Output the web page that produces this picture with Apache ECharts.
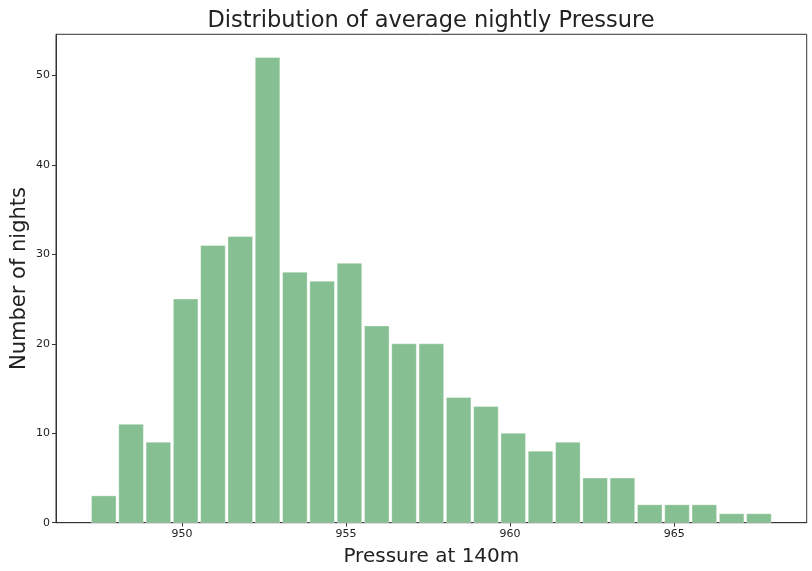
<!DOCTYPE html>
<html>
<head>
<meta charset="utf-8">
<style>
  html, body { margin: 0; padding: 0; background: #fff; }
  #chart { width: 812px; height: 571px; }
</style>
<script src="https://cdn.jsdelivr.net/npm/echarts@6/dist/echarts.min.js"></script>
</head>
<body>
<div id="chart"></div>
<script>
// Histogram of average nightly pressure at 140 m (25 equal-width bins)
const binLow = 947.2;
const binHigh = 968.0;
const counts = [3, 11, 9, 25, 31, 32, 52, 28, 27, 29, 22, 20, 20, 14, 13, 10, 8, 9, 5, 5, 2, 2, 2, 1, 1];
const xTicks = [950, 955, 960, 965];
const yTicks = [0, 10, 20, 30, 40, 50];

const binWidth = (binHigh - binLow) / counts.length;
const bins = counts.map((c, i) => [binLow + i * binWidth, binLow + (i + 1) * binWidth, c]);

const span = binHigh - binLow;
const xMin = binLow - span * 0.05;
const xMax = binHigh + span * 0.05;
const yMax = Math.max(...counts) * 1.05;

const font = 'DejaVu Sans';
const ink = '#222';

const chart = echarts.init(document.getElementById('chart'), null, { renderer: 'canvas' });
chart.setOption({
  animation: false,
  backgroundColor: '#fff',
  title: {
    text: 'Distribution of average nightly Pressure',
    left: 431, top: 10, textAlign: 'center', padding: 0,
    textStyle: { fontFamily: font, fontSize: 22.5, fontWeight: 'normal', color: ink }
  },
  grid: {
    left: 56, right: 5.3, top: 34.3, bottom: 48.3,
    outerBoundsMode: 'none', containLabel: false,
    show: true, borderColor: '#333', borderWidth: 1, backgroundColor: 'transparent'
  },
  xAxis: {
    type: 'value', min: xMin, max: xMax,
    name: 'Pressure at 140m', nameLocation: 'middle', nameGap: 24, nameMoveOverlap: false,
    nameTextStyle: { fontFamily: font, fontSize: 20, color: ink },
    splitLine: { show: false },
    axisLine: { show: true, lineStyle: { color: '#333', width: 1 } },
    axisTick: { show: true, length: 4, customValues: xTicks, lineStyle: { color: '#333' } },
    axisLabel: { customValues: xTicks, fontFamily: font, fontSize: 11, color: ink, margin: 6 }
  },
  yAxis: {
    type: 'value', min: 0, max: yMax,
    name: 'Number of nights', nameLocation: 'middle', nameGap: 26, nameMoveOverlap: false,
    nameTextStyle: { fontFamily: font, fontSize: 21, color: ink },
    splitLine: { show: false },
    axisLine: { show: true, lineStyle: { color: '#333', width: 1 } },
    axisTick: { show: true, length: 4, customValues: yTicks, lineStyle: { color: '#333' } },
    axisLabel: { customValues: yTicks, fontFamily: font, fontSize: 11, color: ink, margin: 6 }
  },
  series: [{
    type: 'custom',
    data: bins,
    encode: { x: [0, 1], y: 2 },
    renderItem: function (params, api) {
      const p0 = api.coord([api.value(0), 0]);
      const p1 = api.coord([api.value(1), api.value(2)]);
      const w = p1[0] - p0[0];
      const inset = w * 0.05;
      return {
        type: 'rect',
        shape: { x: p0[0] + inset, y: p1[1], width: w - 2 * inset, height: p0[1] - p1[1] },
        style: { fill: '#86bf91', stroke: 'rgba(255,255,255,0.35)', lineWidth: 1 }
      };
    }
  }]
});
</script>
</body>
</html>
